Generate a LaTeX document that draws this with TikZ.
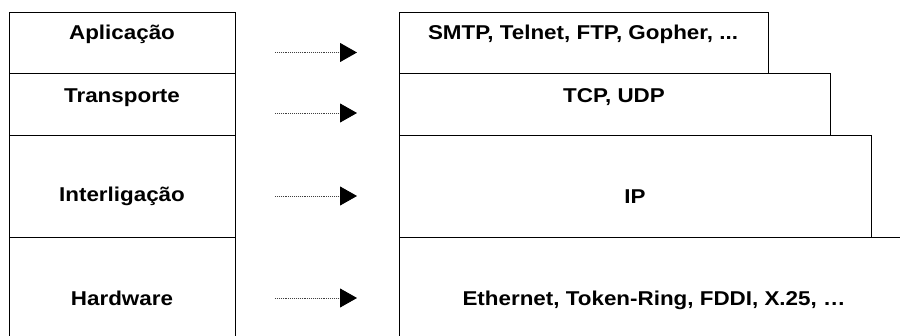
\documentclass[tikz,border=0pt]{standalone}
\usepackage{fontspec}
\setmainfont{Liberation Sans}
\usetikzlibrary{arrows.meta}
% bold label text, set slightly wide
\newcommand{\widelabel}[1]{\scalebox{1.12}[1]{#1}}
\begin{document}
\begin{tikzpicture}[x=1pt,y=-1pt,
  frame/.style={draw=black, line width=0.9pt},
  lbl/.style={font=\bfseries\fontsize{20}{24}\selectfont, anchor=base, inner sep=0pt},
  flow/.style={draw=black!75, line width=0.9pt, densely dotted,
    -{Triangle[length=17pt,width=19pt,fill=black,color=black]}}]
  \useasboundingbox (0,0) rectangle (900,336);

  % layer stack on the left
  \draw[frame] (9,340) -- (9,12) -- (235,12) -- (235,340);
  \draw[frame] (9,73) -- (235,73);
  \draw[frame] (9,135) -- (235,135);
  \draw[frame] (9,237) -- (235,237);

  % protocol blocks on the right, widening downwards
  \draw[frame] (399,73) -- (399,12) -- (768,12) -- (768,73);
  \draw[frame] (399,135) -- (399,73) -- (830,73) -- (830,135);
  \draw[frame] (399,237) -- (399,135) -- (871,135) -- (871,237);
  \draw[frame] (399,340) -- (399,237) -- (910,237);

  % layer names
  \node[lbl] (app)  at (122,39.5)  {\widelabel{Aplicação}};
  \node[lbl] (tra)  at (122,103)   {\widelabel{Transporte}};
  \node[lbl] (int)  at (122,202)   {\widelabel{Interligação}};
  \node[lbl] (hw)   at (122,306)   {\widelabel{Hardware}};

  % protocols of each layer
  \node[lbl] (smtp) at (583,39.5)  {\widelabel{SMTP, Telnet, FTP, Gopher, ...}};
  \node[lbl] (tcp)  at (614,103)   {\widelabel{TCP, UDP}};
  \node[lbl] (ip)   at (635,204)   {\widelabel{IP}};
  \node[lbl] (eth)  at (654,306)   {\widelabel{Ethernet, Token-Ring, FDDI, X.25, …}};

  % arrow ends
  \coordinate (a1s) at (275,52.5);  \coordinate (a1e) at (357,52.5);
  \coordinate (a2s) at (275,113);   \coordinate (a2e) at (357,113);
  \coordinate (a3s) at (275,196);   \coordinate (a3e) at (357,196);
  \coordinate (a4s) at (275,298);   \coordinate (a4e) at (357,298);

  \draw[flow] (a1s) -- (a1e);
  \draw[flow] (a2s) -- (a2e);
  \draw[flow] (a3s) -- (a3e);
  \draw[flow] (a4s) -- (a4e);
\end{tikzpicture}
\end{document}
